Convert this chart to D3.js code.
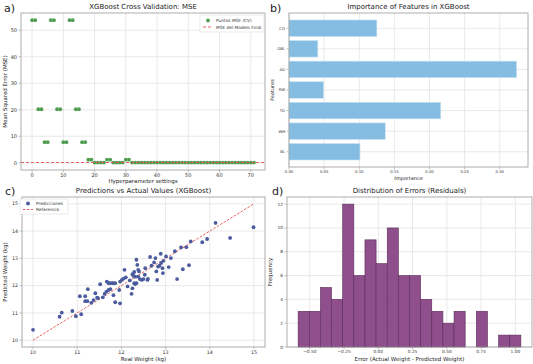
<!DOCTYPE html>
<html>
<head>
<meta charset="utf-8">
<script src="https://cdn.jsdelivr.net/npm/d3@7"></script>
<style>
  body { margin: 0; background: #fff; }
  svg { font-family: "DejaVu Sans", sans-serif; }
</style>
</head>
<body>
<svg id="chart" width="533" height="364"></svg>
<script>
// a) MSE por combinacion de hiperparametros
var mseValues = [53.8, 53.8, 20.2, 20.2, 7.8, 7.8, 53.8, 53.8, 20.2, 20.2, 7.8, 7.8,
  53.8, 53.8, 20.2, 20.2, 7.8, 7.8, 1.2, 1.2, 0.1, 0.1, 0.1, 0.1, 1.2, 1.2,
  0.1, 0.1, 0.1, 0.1, 1.2, 1.2, 0.1, 0.1, 0.1, 0.1, 0.1, 0.1, 0.1, 0.1, 0.1, 0.1,
  0.1, 0.1, 0.1, 0.1, 0.1, 0.1, 0.1, 0.1, 0.1, 0.1, 0.1, 0.1, 0.1, 0.1, 0.1, 0.1,
  0.1, 0.1, 0.1, 0.1, 0.1, 0.1, 0.1, 0.1, 0.1, 0.1, 0.1, 0.1, 0.1, 0.1];
var finalMse = 0.12;
var aXTicks = [0, 10, 20, 30, 40, 50, 60, 70];
var aYTicks = [0, 10, 20, 30, 40, 50];

// b) importancia
var features = ['BL', 'WH', 'TG', 'RW', 'AG', 'OBL', 'CO'];
var importance = [0.101, 0.137, 0.216, 0.049, 0.324, 0.041, 0.125];
var bXTicks = [0, 0.05, 0.10, 0.15, 0.20, 0.25, 0.30];

// c) real vs predicho
var realWeight = [10.0, 10.60, 10.65, 10.89, 10.97, 11.09, 11.06, 11.18, 11.18, 11.23,
  11.24, 11.32, 11.37, 11.41, 11.47, 11.52, 11.58, 11.62, 11.66, 11.67,
  11.71, 11.75, 11.79, 11.82, 11.86, 11.71, 11.75, 11.82, 11.86, 11.97,
  11.95, 11.97, 12.01, 12.05, 12.07, 12.10, 12.14, 12.19, 12.23, 12.25,
  12.27, 12.29, 12.31, 12.25, 12.29, 12.31, 12.34, 12.34, 12.36, 12.38,
  12.40, 12.38, 12.42, 12.46, 12.50, 12.53, 12.54, 12.59, 12.60, 12.65,
  12.68, 12.74, 12.77, 12.79, 12.81, 12.83, 12.86, 12.89, 12.90, 12.93,
  12.94, 12.95, 13.01, 13.07, 13.12, 13.21, 13.26, 13.35, 13.39, 13.47,
  13.53, 13.57, 13.83, 13.94, 14.13, 14.46, 14.99, 11.45];
var predWeight = [10.38, 10.86, 11.01, 11.07, 10.88, 10.95, 11.61, 11.61, 11.43, 11.43,
  11.87, 11.37, 11.47, 11.72, 11.54, 12.05, 11.57, 11.70, 11.78, 12.15,
  12.09, 12.09, 12.09, 12.09, 12.09, 11.84, 11.87, 11.65, 11.39, 11.35,
  11.84, 12.15, 12.21, 12.26, 12.58, 12.30, 11.97, 12.19, 11.70, 12.42,
  12.36, 12.50, 12.33, 11.90, 12.09, 12.06, 12.09, 12.95, 12.76, 12.58,
  12.52, 12.33, 12.24, 12.21, 12.24, 12.40, 12.64, 12.21, 12.25, 13.05,
  12.73, 12.85, 13.01, 12.52, 12.21, 12.70, 12.73, 13.17, 12.83, 12.64,
  12.46, 12.91, 13.07, 12.68, 13.01, 13.26, 12.24, 13.40, 12.60, 13.41,
  12.75, 13.62, 13.59, 13.71, 14.30, 13.75, 14.14, 11.56];
var cTicks = [10, 11, 12, 13, 14, 15];

// d) histograma de residuos
var residualCounts = [3, 3, 5, 4, 12, 6, 9, 7, 10, 6, 6, 4, 3, 2, 3, 0, 3, 0, 1, 1];
var residualMin = -0.585, residualMax = 1.04;
var dXTicks = [-0.50, -0.25, 0.00, 0.25, 0.50, 0.75, 1.00];
var dYTicks = [0, 2, 4, 6, 8, 10, 12];

var svg = d3.select('#chart');
var gridColor = '#e3e3e3', spineColor = '#9a9a9a', textColor = '#333';

function fmtMinus(s) { return s.replace('-', '\u2212'); }

// dibuja rejilla, ticks y etiquetas de un panel
function panel(box, x, y, xt, yt, xfmt, yfmt, fs) {
  var g = svg.append('g');
  g.selectAll('.gx').data(xt).enter().append('line')
    .attr('x1', function(d) { return x(d); }).attr('x2', function(d) { return x(d); })
    .attr('y1', box.y0).attr('y2', box.y1)
    .attr('stroke', gridColor).attr('stroke-width', 0.8);
  g.selectAll('.gy').data(yt).enter().append('line')
    .attr('y1', function(d) { return y(d); }).attr('y2', function(d) { return y(d); })
    .attr('x1', box.x0).attr('x2', box.x1)
    .attr('stroke', gridColor).attr('stroke-width', 0.8);
  g.selectAll('.tx').data(xt).enter().append('line')
    .attr('x1', function(d) { return x(d); }).attr('x2', function(d) { return x(d); })
    .attr('y1', box.y1).attr('y2', box.y1 + 2.5)
    .attr('stroke', spineColor).attr('stroke-width', 0.6);
  g.selectAll('.ty').data(yt).enter().append('line')
    .attr('y1', function(d) { return y(d); }).attr('y2', function(d) { return y(d); })
    .attr('x1', box.x0 - 2.5).attr('x2', box.x0)
    .attr('stroke', spineColor).attr('stroke-width', 0.6);
  g.selectAll('.lx').data(xt).enter().append('text')
    .attr('x', function(d) { return x(d); }).attr('y', box.y1 + 3 + fs * 0.75)
    .attr('text-anchor', 'middle').attr('font-size', fs).attr('fill', textColor)
    .text(xfmt);
  g.selectAll('.ly').data(yt).enter().append('text')
    .attr('x', box.x0 - 4).attr('y', function(d) { return y(d) + fs * 0.35; })
    .attr('text-anchor', 'end').attr('font-size', fs).attr('fill', textColor)
    .text(yfmt);
  return g;
}

function frame(box) {
  svg.append('rect').attr('x', box.x0).attr('y', box.y0)
    .attr('width', box.x1 - box.x0).attr('height', box.y1 - box.y0)
    .attr('fill', 'none').attr('stroke', spineColor).attr('stroke-width', 0.8);
}

function labels(box, letter, title, xlab, ylab, ylx, xly, lfs) {
  svg.append('text').attr('x', box.lx).attr('y', box.ly).attr('font-size', 11)
    .attr('fill', '#222').text(letter);
  svg.append('text').attr('x', (box.x0 + box.x1) / 2).attr('y', box.y0 - 4)
    .attr('text-anchor', 'middle').attr('font-size', 7).attr('fill', '#222').text(title);
  svg.append('text').attr('x', (box.x0 + box.x1) / 2).attr('y', xly)
    .attr('text-anchor', 'middle').attr('font-size', lfs).attr('fill', '#222').text(xlab);
  svg.append('text').attr('transform', 'translate(' + ylx + ',' + (box.y0 + box.y1) / 2 + ') rotate(-90)')
    .attr('text-anchor', 'middle').attr('font-size', lfs).attr('fill', '#222').text(ylab);
}

// ---- a)
var boxA = { x0: 21, x1: 265, y0: 13, y1: 170, lx: 4, ly: 12 };
var xA = d3.scaleLinear().domain([-3.55, 74.55]).range([boxA.x0, boxA.x1]);
var yA = d3.scaleLinear().domain([-2.7, 56.5]).range([boxA.y1, boxA.y0]);
panel(boxA, xA, yA, aXTicks, aYTicks, String, String, 5);
svg.append('g').selectAll('circle').data(mseValues).enter().append('circle')
  .attr('cx', function(d, i) { return xA(i); }).attr('cy', function(d) { return yA(d); })
  .attr('r', 1.9).attr('fill', '#4f9d4f');
svg.append('line').attr('x1', boxA.x0).attr('x2', boxA.x1)
  .attr('y1', yA(finalMse)).attr('y2', yA(finalMse))
  .attr('stroke', '#e8504f').attr('stroke-width', 0.9).attr('stroke-dasharray', '3,2');
frame(boxA);
labels(boxA, 'a)', 'XGBoost Cross Validation: MSE', 'Hyperparameter settings',
  'Mean Squared Error (MSE)', 7, 182.5, 5.5);
var legA = svg.append('g').attr('transform', 'translate(200,15)');
legA.append('rect').attr('width', 64).attr('height', 17).attr('fill', '#fff')
  .attr('stroke', '#ddd').attr('stroke-width', 0.6);
legA.append('circle').attr('cx', 8).attr('cy', 5.5).attr('r', 1.9).attr('fill', '#4f9d4f');
legA.append('line').attr('x1', 3).attr('x2', 13).attr('y1', 12).attr('y2', 12)
  .attr('stroke', '#e8504f').attr('stroke-width', 0.9).attr('stroke-dasharray', '3,2');
legA.append('text').attr('x', 16).attr('y', 7.3).attr('font-size', 4.3).attr('fill', '#333').text('Puntos MSE (CV)');
legA.append('text').attr('x', 16).attr('y', 13.8).attr('font-size', 4.3).attr('fill', '#333').text('MSE del Modelo Final');

// ---- b)
var boxB = { x0: 289, x1: 528, y0: 13, y1: 167, lx: 270, ly: 12 };
var xB = d3.scaleLinear().domain([0, 0.3402]).range([boxB.x0, boxB.x1]);
var yB = d3.scaleLinear().domain([-0.74, 6.74]).range([boxB.y1, boxB.y0]);
var bIdx = d3.range(features.length);
panel(boxB, xB, yB, bXTicks, bIdx, d3.format('.2f'), function(d) { return features[d]; }, 3.8);
svg.append('g').selectAll('rect').data(importance).enter().append('rect')
  .attr('x', xB(0)).attr('y', function(d, i) { return yB(i + 0.4); })
  .attr('width', function(d) { return xB(d) - xB(0); })
  .attr('height', yB(0) - yB(0.8))
  .attr('fill', '#85bde2').attr('stroke', '#c4e0f2').attr('stroke-width', 0.6);
frame(boxB);
labels(boxB, 'b)', 'Importance of Features in XGBoost', 'Importance', 'Features', 274, 179.5, 5);

// ---- c)
var boxC = { x0: 22, x1: 265, y0: 197, y1: 347, lx: 5, ly: 195 };
var xC = d3.scaleLinear().domain([9.75, 15.25]).range([boxC.x0, boxC.x1]);
var yC = d3.scaleLinear().domain([9.75, 15.25]).range([boxC.y1, boxC.y0]);
panel(boxC, xC, yC, cTicks, cTicks, String, String, 4.8);
svg.append('line').attr('x1', xC(10)).attr('y1', yC(10)).attr('x2', xC(15)).attr('y2', yC(15))
  .attr('stroke', '#e8504f').attr('stroke-width', 0.9).attr('stroke-dasharray', '2.5,1.5');
svg.append('g').selectAll('circle').data(realWeight).enter().append('circle')
  .attr('cx', function(d) { return xC(d); })
  .attr('cy', function(d, i) { return yC(predWeight[i]); })
  .attr('r', 1.9).attr('fill', '#4b5b9e');
frame(boxC);
labels(boxC, 'c)', 'Predictions vs Actual Values (XGBoost)', 'Real Weight (kg)',
  'Predicted Weight (kg)', 7, 360.5, 5.5);
var legC = svg.append('g').attr('transform', 'translate(20,199)');
legC.append('rect').attr('width', 48).attr('height', 15).attr('fill', '#fff')
  .attr('stroke', '#ddd').attr('stroke-width', 0.6);
legC.append('circle').attr('cx', 8).attr('cy', 4.5).attr('r', 1.9).attr('fill', '#4b5b9e');
legC.append('line').attr('x1', 3).attr('x2', 13).attr('y1', 10.5).attr('y2', 10.5)
  .attr('stroke', '#e8504f').attr('stroke-width', 0.9).attr('stroke-dasharray', '2.5,1.5');
legC.append('text').attr('x', 16).attr('y', 6.2).attr('font-size', 4.3).attr('fill', '#333').text('Predicciones');
legC.append('text').attr('x', 16).attr('y', 12.2).attr('font-size', 4.3).attr('fill', '#333').text('Referencia');

// ---- d)
var boxD = { x0: 287, x1: 532, y0: 197, y1: 347, lx: 272, ly: 195 };
var binW = (residualMax - residualMin) / residualCounts.length;
var xD = d3.scaleLinear().domain([residualMin - 0.0813, residualMax + 0.0813]).range([boxD.x0, boxD.x1]);
var yD = d3.scaleLinear().domain([0, 12.6]).range([boxD.y1, boxD.y0]);
panel(boxD, xD, yD, dXTicks, dYTicks, function(d) { return fmtMinus(d3.format('.2f')(d)); }, String, 4.3);
svg.append('g').selectAll('rect').data(residualCounts).enter().append('rect')
  .attr('x', function(d, i) { return xD(residualMin + i * binW); })
  .attr('y', function(d) { return yD(d); })
  .attr('width', xD(binW) - xD(0))
  .attr('height', function(d) { return yD(0) - yD(d); })
  .attr('fill', '#8f4f8c').attr('fill-opacity', function(d) { return d > 0 ? 1 : 0; })
  .attr('stroke', function(d) { return d > 0 ? '#5b2c59' : 'none'; }).attr('stroke-width', 0.6);
frame(boxD);
labels(boxD, 'd)', 'Distribution of Errors (Residuals)', 'Error (Actual Weight - Predicted Weight)',
  'Frequency', 272, 360.5, 5.5);
</script>
</body>
</html>
